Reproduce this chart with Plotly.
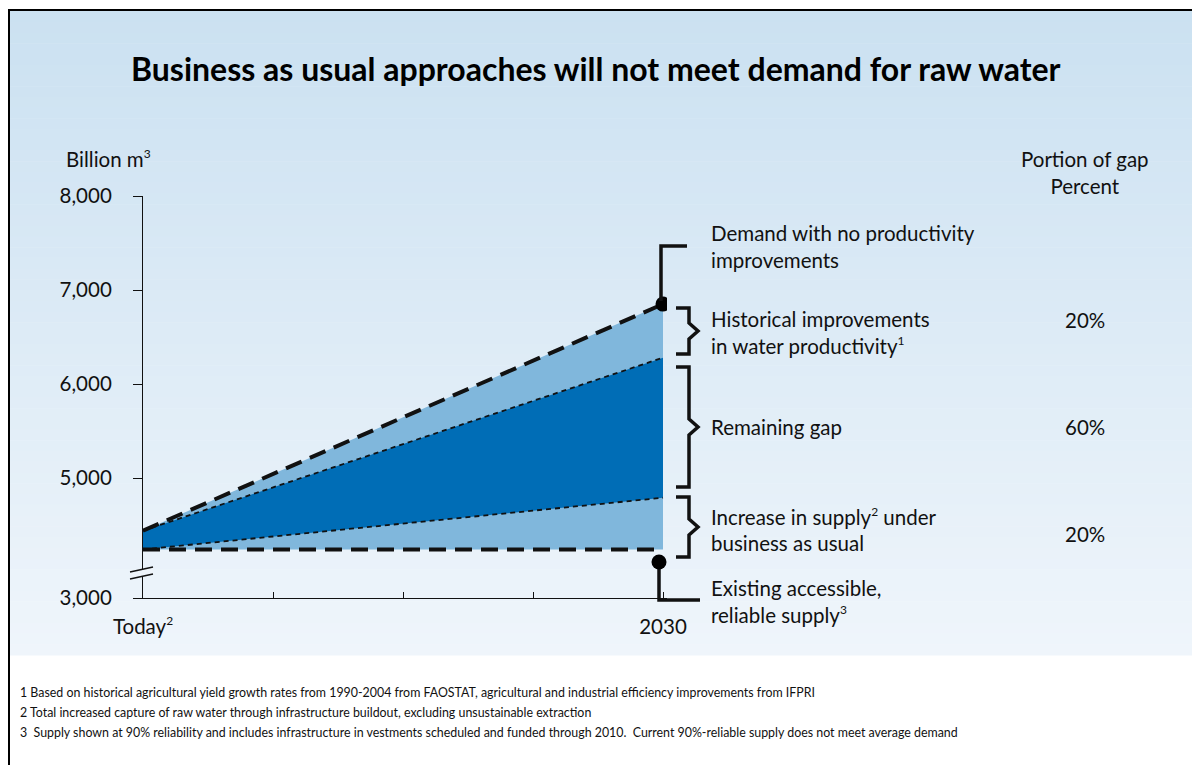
import plotly.graph_objects as go

# ---------------- data ----------------
years = [2010, 2030]
SUP = "<sup><span style='font-size:12px'>%s</span></sup>"
x_tick_vals = [2010, 2015, 2020, 2025, 2030]
x_tick_text = ["Today" + SUP % "2", "", "", "", "2030"]
y_tick_vals = [3723.4, 5000, 6000, 7000, 8000]
y_tick_text = ["3,000", "5,000", "6,000", "7,000", "8,000"]

demand_no_productivity = [4440, 6850]      # billion m3
demand_after_historical = [4440, 6280]
supply_business_as_usual = [4240, 4790]
existing_supply = [4240, 4240]

gap_labels = ["Historical improvements<br>in water productivity" + SUP % "1",
              "Remaining gap",
              "Increase in supply" + SUP % "2" + " under<br>business as usual"]
gap_share = ["20%", "60%", "20%"]

footnotes = [
    "1 Based on historical agricultural yield growth rates from 1990-2004 from FAOSTAT, agricultural and industrial efficiency improvements from IFPRI",
    "2 Total increased capture of raw water through infrastructure buildout, excluding unsustainable extraction",
    "3  Supply shown at 90% reliability and includes infrastructure in vestments scheduled and funded through 2010.  Current 90%-reliable supply does not meet average demand",
]

# ---------------- styling helpers ----------------
OFF = 8  # page body margin
W, H = 1200 - OFF, 765 - OFF
FONT = "Lato"
DARK = "#006db6"
LIGHT = "#80b7dc"
FS = 20.5


def px(x):
    return (x - OFF) / W


def py(y):
    return 1 - (y - OFF) / H


fig = go.Figure()

# light area between existing supply and unconstrained demand
fig.add_trace(go.Scatter(x=years, y=existing_supply, mode="lines",
                         line=dict(width=0), hoverinfo="skip"))
fig.add_trace(go.Scatter(x=years, y=demand_no_productivity, mode="lines",
                         line=dict(width=0), fill="tonexty", fillcolor=LIGHT,
                         hoverinfo="skip"))
# dark area = remaining gap
fig.add_trace(go.Scatter(x=years, y=supply_business_as_usual, mode="lines",
                         line=dict(width=0), hoverinfo="skip"))
fig.add_trace(go.Scatter(x=years, y=demand_after_historical, mode="lines",
                         line=dict(width=0), fill="tonexty", fillcolor=DARK,
                         hoverinfo="skip"))
# dotted boundaries
for series in (demand_after_historical, supply_business_as_usual):
    fig.add_trace(go.Scatter(x=years, y=series, mode="lines",
                             line=dict(color="#111", width=1.8, dash="5px,4px")))
# thick dashed lines
for series in (demand_no_productivity, existing_supply):
    fig.add_trace(go.Scatter(x=years, y=series, mode="lines",
                             line=dict(color="#111", width=4, dash="17px,9px")))
# end point of demand
fig.add_trace(go.Scatter(x=[years[-1]], y=[demand_no_productivity[-1]], mode="markers",
                         marker=dict(color="#000", size=15)))

shapes = []
# background gradient
top_c = (203, 225, 241)
bot_c = (239, 245, 251)
n = 60
y0, y1 = 11, 655
for i in range(n):
    t = i / (n - 1)
    c = tuple(round(top_c[k] + (bot_c[k] - top_c[k]) * t) for k in range(3))
    ya = y0 + (y1 - y0) * i / n
    yb = y0 + (y1 - y0) * (i + 1) / n + 0.5
    shapes.append(dict(type="rect", xref="paper", yref="paper", layer="below",
                       x0=px(9), x1=1.0, y0=py(ya), y1=py(yb),
                       fillcolor="rgb(%d,%d,%d)" % c, line=dict(width=0)))
# border
shapes.append(dict(type="line", xref="paper", yref="paper", x0=px(8), x1=1.0,
                   y0=py(10), y1=py(10), line=dict(color="#000", width=2)))
shapes.append(dict(type="line", xref="paper", yref="paper", x0=px(9), x1=px(9),
                   y0=py(10), y1=0.0, line=dict(color="#000", width=2)))

# axis break mark
shapes.append(dict(type="path", xref="paper", yref="paper",
                   path="M %f %f L %f %f L %f %f L %f %f Z" % (
                       px(130), py(572), px(153), py(567), px(153), py(574), px(130), py(579)),
                   fillcolor="#eef4fa", line=dict(width=0)))
for (ya, yb) in ((572, 567), (579, 574)):
    shapes.append(dict(type="line", xref="paper", yref="paper",
                       x0=px(130), x1=px(153), y0=py(ya), y1=py(yb),
                       line=dict(color="#111", width=1.3)))

LW = 3.5
BLK = "#111"
# demand connector
shapes.append(dict(type="path", xref="paper", yref="paper",
                   path="M %f %f L %f %f L %f %f" % (px(661), py(301), px(661), py(246), px(687), py(246)),
                   line=dict(color=BLK, width=LW)))
# supply connector + dot
shapes.append(dict(type="path", xref="paper", yref="paper",
                   path="M %f %f L %f %f L %f %f" % (px(659), py(562), px(659), py(600), px(700), py(600)),
                   line=dict(color=BLK, width=LW)))
shapes.append(dict(type="circle", xref="paper", yref="paper",
                   x0=px(651.5), x1=px(666.5), y0=py(554.5), y1=py(569.5),
                   fillcolor="#000", line=dict(width=0)))


def brace(top, bottom):
    mid = (top + bottom) / 2
    return dict(type="path", xref="paper", yref="paper",
                path="M %f %f L %f %f L %f %f L %f %f L %f %f L %f %f L %f %f" % (
                    px(676), py(top), px(689), py(top), px(689), py(mid - 8),
                    px(698), py(mid), px(689), py(mid + 8), px(689), py(bottom),
                    px(676), py(bottom)),
                line=dict(color=BLK, width=LW))


for (t, b) in ((308, 354), (367, 487), (497, 557)):
    shapes.append(brace(t, b))

annotations = []
TXT = "#111"
annotations.append(dict(xref="paper", yref="paper", x=px(596), y=py(68),
                        text="<b>Business as usual approaches will not meet demand for raw water</b>",
                        showarrow=False, xanchor="center", yanchor="middle",
                        font=dict(family=FONT, size=32, color="#000")))
annotations.append(dict(xref="paper", yref="paper", x=px(64), y=py(158),
                        text="Billion m" + SUP % "3", showarrow=False,
                        xanchor="left", yanchor="middle",
                        font=dict(family=FONT, size=FS, color=TXT)))
annotations.append(dict(xref="paper", yref="paper", x=px(1085), y=py(173),
                        text="Portion of gap<br>Percent", showarrow=False,
                        xanchor="center", yanchor="middle", align="center",
                        font=dict(family=FONT, size=FS, color=TXT)))
annotations.append(dict(xref="paper", yref="paper", x=px(709), y=py(246),
                        text="Demand with no productivity<br>improvements", showarrow=False,
                        xanchor="left", yanchor="middle", align="left",
                        font=dict(family=FONT, size=FS, color=TXT)))
label_y = [332, 427, 529]
pct_y = [320, 427, 534]
for lab, ly, pct, pyy in zip(gap_labels, label_y, gap_share, pct_y):
    annotations.append(dict(xref="paper", yref="paper", x=px(709), y=py(ly),
                            text=lab, showarrow=False, xanchor="left", yanchor="middle",
                            align="left", font=dict(family=FONT, size=FS, color=TXT)))
    annotations.append(dict(xref="paper", yref="paper", x=px(1085), y=py(pyy),
                            text=pct, showarrow=False, xanchor="center", yanchor="middle",
                            font=dict(family=FONT, size=FS, color=TXT)))
annotations.append(dict(xref="paper", yref="paper", x=px(709), y=py(601),
                        text="Existing accessible,<br>reliable supply" + SUP % "3", showarrow=False,
                        xanchor="left", yanchor="middle", align="left",
                        font=dict(family=FONT, size=FS, color=TXT)))
for i, fn in enumerate(footnotes):
    annotations.append(dict(xref="paper", yref="paper", x=px(18), y=py(692 + 20 * i),
                            text=fn, showarrow=False, xanchor="left", yanchor="middle",
                            font=dict(family=FONT, size=12.4, color=TXT)))

fig.update_layout(
    template="none",
    width=W, height=H, margin=dict(l=0, r=0, t=0, b=0, pad=0, autoexpand=False),
    paper_bgcolor="white", plot_bgcolor="rgba(0,0,0,0)",
    showlegend=False, shapes=shapes, annotations=annotations,
    xaxis=dict(domain=[px(143), px(667)], range=[2010, 2030 + 4 / 26],
               automargin=False,
               tickvals=x_tick_vals, ticktext=x_tick_text,
               ticks="inside", ticklen=6, tickcolor="#111", tickwidth=1.2,
               showline=True, linecolor="#111", linewidth=1.2,
               showgrid=False, zeroline=False, ticklabelstandoff=10,
               tickfont=dict(family=FONT, size=FS, color=TXT)),
    yaxis=dict(domain=[py(598), py(196)], range=[3723.4, 8000],
               automargin=False,
               tickvals=y_tick_vals, ticktext=y_tick_text,
               ticks="outside", ticklen=9, tickcolor="#111", tickwidth=1.2,
               showline=True, linecolor="#111", linewidth=1.2,
               showgrid=False, zeroline=False, ticklabelstandoff=17,
               tickfont=dict(family=FONT, size=FS, color=TXT)),
)

fig.write_html("out.html", post_script="document.documentElement.style.overflow='hidden';")
